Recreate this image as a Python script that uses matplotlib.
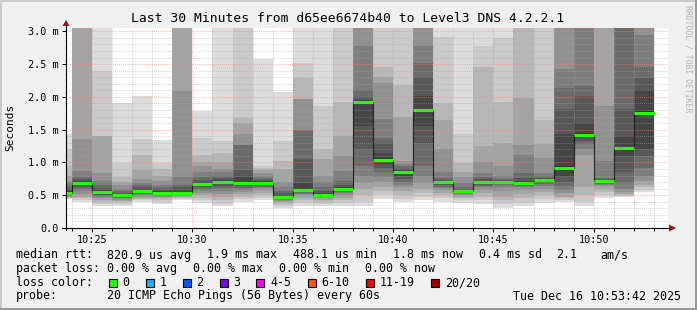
import matplotlib
matplotlib.use("Agg")
from matplotlib import pyplot as plt
from matplotlib.patches import Rectangle, Polygon

W, H = 697, 310
MONO = "DejaVu Sans Mono"

title = "Last 30 Minutes from d65ee6674b40 to Level3 DNS 4.2.2.1"
view = ("10:23:42", "10:53:42")
bar_start = ["10:23:42"] + ["10:%02d" % m for m in range(24, 53)]
bar_end = "10:53"

# median rtt per step (ms)
median = [0.53, 0.69, 0.55, 0.50, 0.57, 0.54, 0.54, 0.67, 0.70, 0.68,
          0.68, 0.48, 0.58, 0.51, 0.60, 1.92, 1.04, 0.85, 1.80, 0.70,
          0.56, 0.70, 0.70, 0.69, 0.73, 0.92, 1.42, 0.71, 1.22, 1.76]

# the 20 sorted pings per step (ms), 3.2 = above the graph
pings = [
    [0.44, 0.45, 0.46, 0.47, 0.48, 0.49, 0.50, 0.51, 0.52, 0.53, 0.54, 0.56, 0.60, 0.64, 0.68, 0.72, 0.80, 0.95, 1.20, 1.43],
    [0.40, 0.42, 0.45, 0.48, 0.52, 0.56, 0.60, 0.63, 0.66, 0.68, 0.70, 0.72, 0.74, 0.78, 0.87, 1.35, 3.2, 3.2, 3.2, 3.2],
    [0.33, 0.37, 0.40, 0.42, 0.45, 0.47, 0.49, 0.51, 0.53, 0.54, 0.56, 0.58, 0.61, 0.66, 0.72, 0.84, 1.40, 1.41, 2.40, 3.2],
    [0.33, 0.36, 0.39, 0.41, 0.43, 0.45, 0.46, 0.47, 0.48, 0.49, 0.51, 0.52, 0.54, 0.56, 0.60, 0.65, 0.70, 0.78, 0.99, 1.90],
    [0.40, 0.42, 0.44, 0.46, 0.48, 0.50, 0.52, 0.54, 0.55, 0.56, 0.58, 0.60, 0.63, 0.66, 0.69, 0.75, 0.89, 1.12, 1.36, 2.02],
    [0.37, 0.40, 0.43, 0.45, 0.47, 0.49, 0.50, 0.51, 0.52, 0.53, 0.55, 0.57, 0.60, 0.63, 0.66, 0.72, 0.80, 0.90, 0.99, 1.34],
    [0.42, 0.44, 0.46, 0.48, 0.49, 0.50, 0.51, 0.52, 0.53, 0.54, 0.55, 0.58, 0.62, 0.66, 0.78, 2.09, 3.2, 3.2, 3.2, 3.2],
    [0.38, 0.42, 0.46, 0.50, 0.54, 0.57, 0.60, 0.62, 0.64, 0.66, 0.68, 0.70, 0.73, 0.78, 0.85, 0.94, 1.00, 1.11, 1.37, 1.79],
    [0.33, 0.37, 0.42, 0.47, 0.52, 0.57, 0.61, 0.64, 0.67, 0.69, 0.71, 0.73, 0.76, 0.80, 0.86, 0.90, 1.00, 1.15, 1.32, 3.2],
    [0.40, 0.44, 0.48, 0.52, 0.55, 0.58, 0.61, 0.64, 0.66, 0.67, 0.70, 0.78, 0.88, 1.26, 1.27, 1.43, 1.60, 1.68, 3.2, 3.2],
    [0.42, 0.46, 0.50, 0.54, 0.58, 0.61, 0.63, 0.65, 0.66, 0.67, 0.69, 0.71, 0.73, 0.76, 0.80, 0.84, 0.88, 0.91, 0.94, 2.57],
    [0.30, 0.33, 0.36, 0.39, 0.41, 0.43, 0.44, 0.45, 0.46, 0.47, 0.49, 0.51, 0.53, 0.57, 0.62, 0.70, 0.90, 1.02, 1.32, 2.08],
    [0.34, 0.38, 0.42, 0.46, 0.50, 0.52, 0.54, 0.55, 0.56, 0.57, 0.60, 0.69, 1.05, 1.49, 1.50, 1.96, 1.97, 2.29, 2.51, 3.2],
    [0.33, 0.37, 0.40, 0.43, 0.45, 0.47, 0.48, 0.49, 0.50, 0.505, 0.52, 0.54, 0.57, 0.62, 0.70, 0.80, 1.05, 1.20, 1.86, 3.2],
    [0.34, 0.38, 0.42, 0.46, 0.50, 0.53, 0.55, 0.57, 0.58, 0.59, 0.61, 0.63, 0.66, 0.72, 0.87, 1.10, 1.40, 1.92, 3.2, 3.2],
    [0.34, 0.40, 0.50, 0.60, 0.69, 0.80, 0.95, 1.20, 1.55, 1.90, 1.93, 1.95, 2.00, 2.11, 2.77, 3.2, 3.2, 3.2, 3.2, 3.2],
    [0.44, 0.50, 0.56, 0.62, 0.70, 0.78, 0.85, 0.92, 0.98, 1.02, 1.06, 1.15, 1.30, 1.38, 1.66, 2.21, 2.31, 2.46, 3.2, 3.2],
    [0.39, 0.44, 0.50, 0.56, 0.62, 0.66, 0.70, 0.74, 0.80, 0.84, 0.86, 0.88, 0.90, 0.94, 0.98, 1.02, 1.70, 2.18, 3.2, 3.2],
    [0.43, 0.48, 0.54, 0.60, 0.69, 0.80, 0.94, 1.30, 1.55, 1.78, 1.82, 2.01, 2.31, 2.52, 2.77, 3.2, 3.2, 3.2, 3.2, 3.2],
    [0.40, 0.45, 0.50, 0.54, 0.58, 0.61, 0.63, 0.65, 0.67, 0.69, 0.71, 0.72, 0.73, 0.76, 0.85, 1.20, 1.65, 1.91, 2.92, 3.2],
    [0.38, 0.42, 0.45, 0.48, 0.50, 0.52, 0.53, 0.54, 0.55, 0.555, 0.57, 0.58, 0.60, 0.63, 0.69, 0.78, 0.86, 0.99, 1.44, 3.2],
    [0.36, 0.42, 0.48, 0.54, 0.58, 0.62, 0.64, 0.66, 0.68, 0.69, 0.71, 0.72, 0.74, 0.78, 0.84, 1.00, 1.25, 2.45, 2.77, 3.2],
    [0.31, 0.36, 0.42, 0.48, 0.56, 0.62, 0.65, 0.67, 0.68, 0.69, 0.71, 0.72, 0.73, 0.75, 0.79, 0.94, 1.30, 1.92, 2.90, 3.2],
    [0.33, 0.38, 0.45, 0.52, 0.58, 0.62, 0.64, 0.66, 0.67, 0.68, 0.70, 0.72, 0.76, 0.84, 1.12, 1.27, 1.99, 3.2, 3.2, 3.2],
    [0.38, 0.44, 0.50, 0.55, 0.60, 0.64, 0.67, 0.70, 0.71, 0.72, 0.74, 0.75, 0.77, 0.80, 0.84, 1.07, 1.28, 1.65, 3.2, 3.2],
    [0.40, 0.42, 0.45, 0.48, 0.53, 0.58, 0.64, 0.70, 0.80, 0.90, 0.95, 1.43, 1.81, 2.13, 2.43, 3.2, 3.2, 3.2, 3.2, 3.2],
    [0.34, 0.40, 0.50, 0.62, 1.12, 1.20, 1.28, 1.33, 1.38, 1.41, 1.45, 1.60, 2.01, 2.16, 3.2, 3.2, 3.2, 3.2, 3.2, 3.2],
    [0.45, 0.50, 0.55, 0.60, 0.64, 0.66, 0.67, 0.68, 0.69, 0.70, 0.72, 0.73, 0.74, 0.76, 1.02, 1.86, 3.2, 3.2, 3.2, 3.2],
    [0.48, 0.49, 0.50, 0.52, 0.55, 0.60, 0.68, 0.85, 1.10, 1.20, 1.24, 1.40, 1.81, 3.2, 3.2, 3.2, 3.2, 3.2, 3.2, 3.2],
    [0.55, 0.58, 0.62, 0.66, 0.72, 0.80, 0.91, 1.10, 1.20, 1.74, 1.78, 2.10, 2.28, 2.46, 2.94, 3.2, 3.2, 3.2, 3.2, 3.2],
]

x_ticks = ["10:25", "10:30", "10:35", "10:40", "10:45", "10:50"]
y_ticks = [0.0, 0.5, 1.0, 1.5, 2.0, 2.5, 3.0]
y_labels = ["0.0", "0.5 m", "1.0 m", "1.5 m", "2.0 m", "2.5 m", "3.0 m"]

loss_labels = ["0", "1", "2", "3", "4-5", "6-10", "11-19", "20/20"]
loss_colors = ["#26ff00", "#00b8ff", "#0059ff", "#7e00ff", "#ff00ff", "#ff5500", "#ff0000", "#a10000"]

stats_rtt = ["820.9 us avg", "1.9 ms max", "488.1 us min", "1.8 ms now", "0.4 ms sd", "2.1", "am/s"]
stats_loss = ["0.00 % avg", "0.00 % max", "0.00 % min", "0.00 % now"]
probe = "20 ICMP Echo Pings (56 Bytes) every 60s"
stamp = "Tue Dec 16 10:53:42 2025"


def to_min(s):
    parts = [int(v) for v in s.split(":")]
    if len(parts) == 2:
        parts.append(0)
    return (parts[0] - 10) * 60 + parts[1] + parts[2] / 60.0


def px(x, y):
    return x / W, 1 - y / H


fig = plt.figure(figsize=(W / 100, H / 100), dpi=100, facecolor="#f0f0f0")
ax = fig.add_axes([66 / W, 1 - 228 / H, (668 - 66) / W, 200 / H])
ax.set_facecolor("white")
ax.set_xlim(to_min(view[0]), to_min(view[1]))
ax.set_ylim(0, 3.05)

starts = [to_min(s) for s in bar_start]
ends = starts[1:] + [to_min(bar_end)]

# smoke: nested bands, outer pair lightest
for x0, x1, p in zip(starts, ends, pings):
    p = sorted(p)
    for k in range(10):
        g = (221 - 19 * k) / 255.0
        ax.bar(x0, p[19 - k] - p[k], bottom=p[k], width=x1 - x0, align="edge",
               color=(g, g, g), linewidth=0, antialiased=False, zorder=1)

ax.step(starts + [ends[-1]], median + [median[-1]], where="post",
        color="#202020", lw=0.8, zorder=3)
ax.hlines(median, starts, ends, color=loss_colors[0], lw=2.2, zorder=4)

# grid
ax.set_yticks(y_ticks)
ax.set_yticklabels(y_labels)
ax.set_yticks([i / 10 for i in range(31) if i % 5], minor=True)
ax.set_xticks([to_min(t) for t in x_ticks])
ax.set_xticklabels(x_ticks)
ax.set_xticks([to_min("10:%02d" % m) for m in range(24, 54) if m % 5], minor=True)
ax.set_axisbelow(False)
ax.grid(which="minor", color="#a8a8a8", alpha=0.45, lw=0.7, ls=(0, (1, 1)))
ax.grid(which="major", color="#ff8080", alpha=0.55, lw=0.7, ls=(0, (1, 1)))
for s in ax.spines.values():
    s.set_visible(False)
ax.tick_params(which="major", length=3, width=0.7, pad=2, labelsize=7.3)
ax.tick_params(which="minor", length=2, width=0.7)
ax.tick_params(axis="y", which="minor", length=0)
for lab in ax.get_xticklabels() + ax.get_yticklabels():
    lab.set_fontfamily(MONO)

# axes with arrows
fig.add_artist(plt.Line2D([px(62, 0)[0], px(669, 0)[0]], [px(0, 228)[1]] * 2, color="black", lw=0.8))
fig.add_artist(plt.Line2D([px(66, 0)[0]] * 2, [px(0, 230)[1], px(0, 25)[1]], color="black", lw=0.8))
fig.add_artist(Polygon([px(669, 224.5), px(669, 231.5), px(676, 228)], closed=True,
                       facecolor="#a01010", edgecolor="none"))
fig.add_artist(Polygon([px(62.5, 26), px(69.5, 26), px(66, 20)], closed=True,
                       facecolor="#a01010", edgecolor="none"))

# frame shading
fig.add_artist(Rectangle((0, 1 - 2 / H), 1, 2 / H, facecolor="#cbcbcb", edgecolor="none"))
fig.add_artist(Rectangle((0, 0), 2 / W, 1, facecolor="#cbcbcb", edgecolor="none"))
fig.add_artist(Rectangle((0, 0), 1, 2 / H, facecolor="#999999", edgecolor="none"))
fig.add_artist(Rectangle((1 - 2 / W, 0), 2 / W, 1, facecolor="#999999", edgecolor="none"))

fig.text(*px(348, 18), title, ha="center", va="center", family=MONO, fontsize=9.4)
fig.text(*px(10, 127), "Seconds", ha="center", va="center", rotation=90, family=MONO, fontsize=8)
fig.text(*px(688, 5), "RRDTOOL / TOBI OETIKER", ha="center", va="top", rotation=270,
         family=MONO, fontsize=5.9, color="#b4b4b4")

fs = 8.37
rows = [255, 268.5, 282.5, 296]
fig.text(*px(16, rows[0]), "median rtt:", va="center", family=MONO, fontsize=fs)
for x, s in zip([107, 207, 293, 393, 479, 556, 600], stats_rtt):
    fig.text(*px(x, rows[0]), s, va="center", family=MONO, fontsize=fs)
fig.text(*px(16, rows[1]), "packet loss:", va="center", family=MONO, fontsize=fs)
for x, s in zip([107, 193, 279, 365], stats_loss):
    fig.text(*px(x, rows[1]), s, va="center", family=MONO, fontsize=fs)
fig.text(*px(16, rows[2]), "loss color:", va="center", family=MONO, fontsize=fs)
box_x = [108.5, 145.5, 182.5, 219.5, 256, 307.5, 365.5, 431]
for x, lab, c in zip(box_x, loss_labels, loss_colors):
    fig.add_artist(Rectangle(px(x, rows[2] + 4), 8 / W, 8 / H, facecolor=c,
                             edgecolor="black", lw=0.8))
    fig.text(*px(x + 14, rows[2]), lab, va="center", family=MONO, fontsize=fs)
fig.text(*px(16, rows[3]), "probe:", va="center", family=MONO, fontsize=fs)
fig.text(*px(107, rows[3]), probe, va="center", family=MONO, fontsize=fs)
fig.text(*px(681, rows[3]), stamp, va="center", ha="right", family=MONO, fontsize=fs)

fig.savefig("out.png", dpi=100, facecolor=fig.get_facecolor())
